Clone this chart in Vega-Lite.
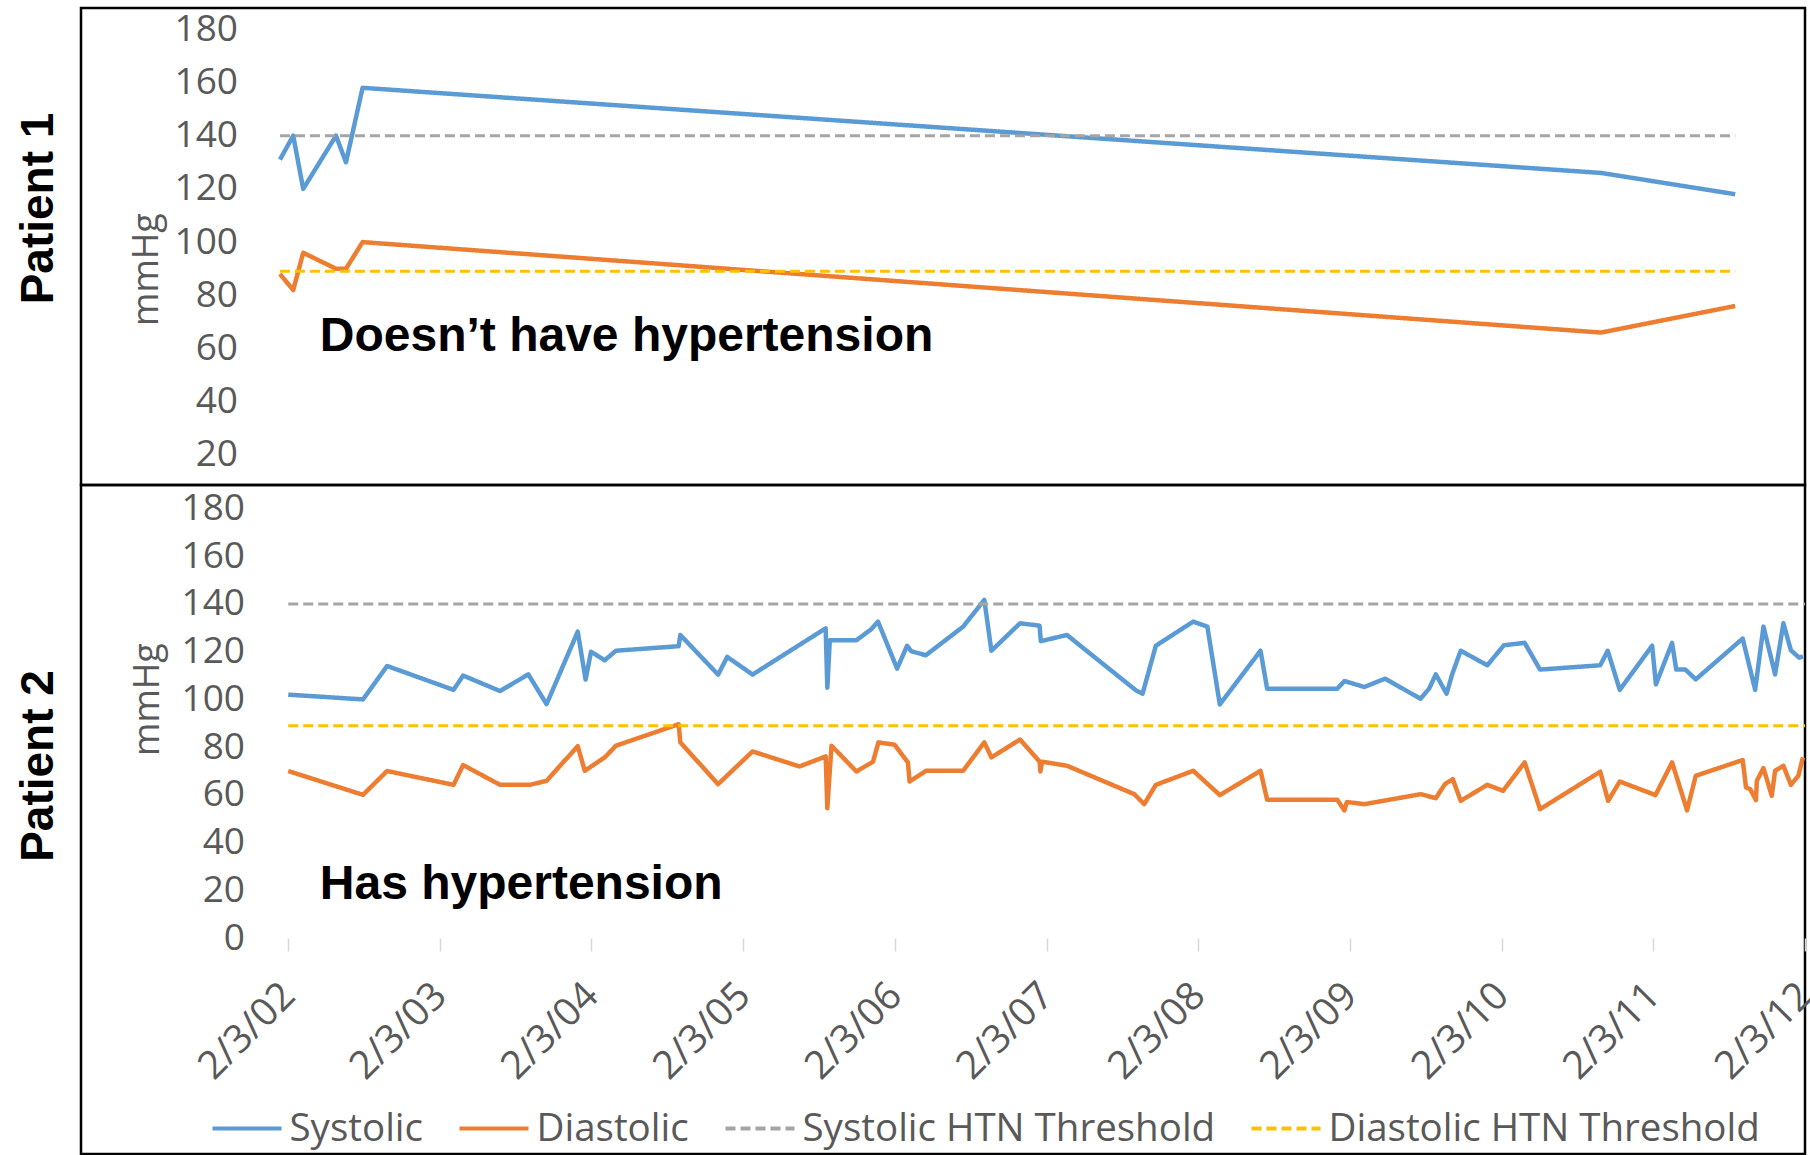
{
  "$schema": "https://vega.github.io/schema/vega-lite/v6.json",
  "padding": {"left": 14, "top": 6, "right": 0, "bottom": 0},
  "background": "white",
  "config": {"view": {"stroke": "#000000", "strokeWidth": 2.5}, "font": "Open Sans"},
  "spacing": 0,
  "bounds": "flush",
  "resolve": {
    "scale": {"x": "independent", "y": "independent", "color": "independent", "strokeDash": "independent"},
    "legend": {"color": "independent", "strokeDash": "independent"}
  },
  "vconcat": [
    {
      "width": 1724,
      "height": 477,
      "title": {"text": "Patient 1", "orient": "left", "anchor": "middle", "font": "Liberation Sans", "fontSize": 46, "fontWeight": "bold", "color": "#000000", "offset": 18, "dx": 38},
      "encoding": {
        "x": {"field": "date", "type": "temporal", "scale": {"type": "utc", "domain": [{"year": 2000, "month": 9, "date": 22, "utc": true}, {"year": 2012, "month": 2, "date": 3, "utc": true}]}, "axis": null},
        "y": {"field": "mmHg", "type": "quantitative", "scale": {"domain": [8.7, 188], "nice": false, "zero": false},
          "axis": {"values": [20, 40, 60, 80, 100, 120, 140, 160, 180], "offset": -198.5, "domain": false, "ticks": false, "grid": false,
            "labelFont": "Open Sans", "labelFontSize": 37, "labelColor": "#595959", "labelPadding": 42,
            "title": "mmHg", "titleFont": "Open Sans", "titleFontSize": 36, "titleFontWeight": "normal", "titleColor": "#595959",
            "titleX": -133.5, "titleY": 261, "titleAlign": "center", "titleBaseline": "middle"}}
      },
      "layer": [
        {
          "data": {"values": [{"mmHg": 20}, {"mmHg": 40}, {"mmHg": 60}, {"mmHg": 80}, {"mmHg": 100}, {"mmHg": 120}, {"mmHg": 140}, {"mmHg": 160}, {"mmHg": 180}]},
          "mark": {"type": "rule", "color": "#dedede", "strokeWidth": 1.5},
          "encoding": {
            "x": {"datum": {"year": 2002, "month": 1, "date": 14, "utc": true}, "type": "temporal", "axis": null},
            "x2": {"datum": {"year": 2011, "month": 8, "date": 19, "utc": true}}
          }
        },
        {
          "data": {"values": [
            {"date": "2002-01-14", "series": "Systolic", "mmHg": 131},
            {"date": "2002-02-15", "series": "Systolic", "mmHg": 140},
            {"date": "2002-03-11", "series": "Systolic", "mmHg": 120},
            {"date": "2002-05-29", "series": "Systolic", "mmHg": 140},
            {"date": "2002-06-22", "series": "Systolic", "mmHg": 130},
            {"date": "2002-08-01", "series": "Systolic", "mmHg": 158},
            {"date": "2010-09-30", "series": "Systolic", "mmHg": 126},
            {"date": "2011-08-19", "series": "Systolic", "mmHg": 118},
            {"date": "2002-01-14", "series": "Diastolic", "mmHg": 88},
            {"date": "2002-02-15", "series": "Diastolic", "mmHg": 82},
            {"date": "2002-03-11", "series": "Diastolic", "mmHg": 96},
            {"date": "2002-05-29", "series": "Diastolic", "mmHg": 90},
            {"date": "2002-06-22", "series": "Diastolic", "mmHg": 90},
            {"date": "2002-08-01", "series": "Diastolic", "mmHg": 100},
            {"date": "2010-09-30", "series": "Diastolic", "mmHg": 66},
            {"date": "2011-08-19", "series": "Diastolic", "mmHg": 76}
          ]},
          "mark": {"type": "line", "strokeWidth": 4.5, "strokeJoin": "round"},
          "encoding": {
            "color": {"field": "series", "type": "nominal", "scale": {"domain": ["Systolic", "Diastolic", "Systolic HTN Threshold", "Diastolic HTN Threshold"], "range": ["#5B9BD5", "#ED7D31", "#A5A5A5", "#FFC000"]}, "legend": null},
            "strokeDash": {"field": "series", "type": "nominal", "scale": {"domain": ["Systolic", "Diastolic", "Systolic HTN Threshold", "Diastolic HTN Threshold"], "range": [[1, 0], [1, 0], [10, 5], [10, 5]]}, "legend": null}
          }
        },
        {
          "data": {"values": [
            {"date": "2002-01-14", "series": "Systolic HTN Threshold", "mmHg": 140},
            {"date": "2011-08-19", "series": "Systolic HTN Threshold", "mmHg": 140},
            {"date": "2002-01-14", "series": "Diastolic HTN Threshold", "mmHg": 89},
            {"date": "2011-08-19", "series": "Diastolic HTN Threshold", "mmHg": 89}
          ]},
          "mark": {"type": "line", "strokeWidth": 3},
          "encoding": {
            "color": {"field": "series", "type": "nominal", "legend": null},
            "strokeDash": {"field": "series", "type": "nominal", "legend": null}
          }
        },
        {
          "data": {"values": [{"date": "2002-04-20", "mmHg": 59.1, "label": "Doesn’t have hypertension"}]},
          "mark": {"type": "text", "align": "left", "baseline": "alphabetic", "font": "Liberation Sans", "fontSize": 48, "fontWeight": "bold", "color": "#000000"},
          "encoding": {"text": {"field": "label"}}
        }
      ]
    },
    {
      "width": 1724,
      "height": 669,
      "title": {"text": "Patient 2", "orient": "left", "anchor": "middle", "font": "Liberation Sans", "fontSize": 46, "fontWeight": "bold", "color": "#000000", "offset": 18, "dx": 53.5},
      "encoding": {
        "x": {"field": "date", "type": "temporal", "scale": {"type": "utc", "domain": [{"year": 2000, "month": 9, "date": 22, "utc": true}, {"year": 2012, "month": 2, "date": 3, "utc": true}]},
          "axis": {"values": [
            {"year": 2002, "month": 2, "date": 3, "utc": true}, {"year": 2003, "month": 2, "date": 3, "utc": true},
            {"year": 2004, "month": 2, "date": 3, "utc": true}, {"year": 2005, "month": 2, "date": 3, "utc": true},
            {"year": 2006, "month": 2, "date": 3, "utc": true}, {"year": 2007, "month": 2, "date": 3, "utc": true},
            {"year": 2008, "month": 2, "date": 3, "utc": true}, {"year": 2009, "month": 2, "date": 3, "utc": true},
            {"year": 2010, "month": 2, "date": 3, "utc": true}, {"year": 2011, "month": 2, "date": 3, "utc": true},
            {"year": 2012, "month": 2, "date": 3, "utc": true}],
            "format": "%-m/%-d/%y", "labelAngle": -45, "labelBaseline": "middle", "labelFont": "Open Sans", "labelFontSize": 39, "labelColor": "#595959",
            "offset": -216, "domain": false, "grid": false, "ticks": true, "tickColor": "#d9d9d9", "tickSize": 13, "tickWidth": 1.5,
            "labelPadding": 38, "title": null, "labelFlush": false, "labelOverlap": false, "labelBound": false}},
        "y": {"field": "mmHg", "type": "quantitative", "scale": {"domain": [-90.5, 189.85], "nice": false, "zero": false},
          "axis": {"values": [0, 20, 40, 60, 80, 100, 120, 140, 160, 180], "offset": -207.5, "domain": false, "ticks": false, "grid": false,
            "labelFont": "Open Sans", "labelFontSize": 37, "labelColor": "#595959", "labelPadding": 44,
            "title": "mmHg", "titleFont": "Open Sans", "titleFontSize": 36, "titleFontWeight": "normal", "titleColor": "#595959",
            "titleX": -141, "titleY": 214, "titleAlign": "center", "titleBaseline": "middle"}}
      },
      "layer": [
        {
          "data": {"values": [{"mmHg": 0}, {"mmHg": 20}, {"mmHg": 40}, {"mmHg": 60}, {"mmHg": 80}, {"mmHg": 100}, {"mmHg": 120}, {"mmHg": 140}, {"mmHg": 160}, {"mmHg": 180}]},
          "mark": {"type": "rule", "color": "#dedede", "strokeWidth": 1.5, "clip": true},
          "encoding": {
            "x": {"datum": {"year": 2002, "month": 2, "date": 3, "utc": true}, "type": "temporal"},
            "x2": {"datum": {"year": 2012, "month": 2, "date": 3, "utc": true}}
          }
        },
        {
          "data": {"values": [
            {"date": "2002-02-03", "series": "Systolic", "mmHg": 102},
            {"date": "2002-08-02", "series": "Systolic", "mmHg": 100},
            {"date": "2002-09-29", "series": "Systolic", "mmHg": 114},
            {"date": "2003-03-08", "series": "Systolic", "mmHg": 104},
            {"date": "2003-03-31", "series": "Systolic", "mmHg": 110},
            {"date": "2003-06-28", "series": "Systolic", "mmHg": 103.5},
            {"date": "2003-09-04", "series": "Systolic", "mmHg": 110.5},
            {"date": "2003-10-18", "series": "Systolic", "mmHg": 98},
            {"date": "2004-01-01", "series": "Systolic", "mmHg": 128.4},
            {"date": "2004-01-20", "series": "Systolic", "mmHg": 108.3},
            {"date": "2004-02-02", "series": "Systolic", "mmHg": 120},
            {"date": "2004-03-06", "series": "Systolic", "mmHg": 116.4},
            {"date": "2004-04-02", "series": "Systolic", "mmHg": 120.4},
            {"date": "2004-08-31", "series": "Systolic", "mmHg": 122.3},
            {"date": "2004-09-04", "series": "Systolic", "mmHg": 127},
            {"date": "2004-12-04", "series": "Systolic", "mmHg": 110.4},
            {"date": "2004-12-26", "series": "Systolic", "mmHg": 117.8},
            {"date": "2005-02-25", "series": "Systolic", "mmHg": 110.4},
            {"date": "2005-08-20", "series": "Systolic", "mmHg": 129.8},
            {"date": "2005-08-24", "series": "Systolic", "mmHg": 104.9},
            {"date": "2005-08-30", "series": "Systolic", "mmHg": 124.8},
            {"date": "2005-11-02", "series": "Systolic", "mmHg": 124.8},
            {"date": "2005-12-07", "series": "Systolic", "mmHg": 129.3},
            {"date": "2005-12-24", "series": "Systolic", "mmHg": 132.6},
            {"date": "2006-02-08", "series": "Systolic", "mmHg": 112.9},
            {"date": "2006-03-04", "series": "Systolic", "mmHg": 122.5},
            {"date": "2006-03-14", "series": "Systolic", "mmHg": 120.2},
            {"date": "2006-04-18", "series": "Systolic", "mmHg": 118.5},
            {"date": "2006-07-17", "series": "Systolic", "mmHg": 130.5},
            {"date": "2006-09-06", "series": "Systolic", "mmHg": 141.7},
            {"date": "2006-09-23", "series": "Systolic", "mmHg": 120.4},
            {"date": "2006-12-01", "series": "Systolic", "mmHg": 131.9},
            {"date": "2007-01-17", "series": "Systolic", "mmHg": 130.9},
            {"date": "2007-01-20", "series": "Systolic", "mmHg": 124.4},
            {"date": "2007-03-24", "series": "Systolic", "mmHg": 127},
            {"date": "2007-09-06", "series": "Systolic", "mmHg": 103.8},
            {"date": "2007-09-22", "series": "Systolic", "mmHg": 102.4},
            {"date": "2007-10-24", "series": "Systolic", "mmHg": 122.5},
            {"date": "2008-01-22", "series": "Systolic", "mmHg": 132.6},
            {"date": "2008-02-25", "series": "Systolic", "mmHg": 130.5},
            {"date": "2008-03-26", "series": "Systolic", "mmHg": 97.9},
            {"date": "2008-07-02", "series": "Systolic", "mmHg": 120.4},
            {"date": "2008-07-18", "series": "Systolic", "mmHg": 104.5},
            {"date": "2009-01-03", "series": "Systolic", "mmHg": 104.5},
            {"date": "2009-01-20", "series": "Systolic", "mmHg": 107.7},
            {"date": "2009-03-09", "series": "Systolic", "mmHg": 105.2},
            {"date": "2009-04-28", "series": "Systolic", "mmHg": 108.7},
            {"date": "2009-07-22", "series": "Systolic", "mmHg": 100.3},
            {"date": "2009-08-12", "series": "Systolic", "mmHg": 104.5},
            {"date": "2009-08-28", "series": "Systolic", "mmHg": 110.5},
            {"date": "2009-09-23", "series": "Systolic", "mmHg": 102.4},
            {"date": "2009-10-07", "series": "Systolic", "mmHg": 110.8},
            {"date": "2009-10-27", "series": "Systolic", "mmHg": 120.4},
            {"date": "2009-12-30", "series": "Systolic", "mmHg": 114.3},
            {"date": "2010-02-08", "series": "Systolic", "mmHg": 122.7},
            {"date": "2010-03-30", "series": "Systolic", "mmHg": 123.7},
            {"date": "2010-05-06", "series": "Systolic", "mmHg": 112.5},
            {"date": "2010-09-28", "series": "Systolic", "mmHg": 114.3},
            {"date": "2010-10-16", "series": "Systolic", "mmHg": 120.4},
            {"date": "2010-11-14", "series": "Systolic", "mmHg": 104},
            {"date": "2011-01-31", "series": "Systolic", "mmHg": 122.5},
            {"date": "2011-02-09", "series": "Systolic", "mmHg": 106.3},
            {"date": "2011-03-20", "series": "Systolic", "mmHg": 123.7},
            {"date": "2011-03-30", "series": "Systolic", "mmHg": 112.5},
            {"date": "2011-04-21", "series": "Systolic", "mmHg": 112.5},
            {"date": "2011-05-16", "series": "Systolic", "mmHg": 108.4},
            {"date": "2011-09-06", "series": "Systolic", "mmHg": 125.5},
            {"date": "2011-10-06", "series": "Systolic", "mmHg": 104},
            {"date": "2011-10-26", "series": "Systolic", "mmHg": 130.5},
            {"date": "2011-11-23", "series": "Systolic", "mmHg": 110.5},
            {"date": "2011-12-13", "series": "Systolic", "mmHg": 131.9},
            {"date": "2011-12-31", "series": "Systolic", "mmHg": 120.6},
            {"date": "2012-01-20", "series": "Systolic", "mmHg": 117.5},
            {"date": "2012-01-29", "series": "Systolic", "mmHg": 118},
            {"date": "2002-02-03", "series": "Diastolic", "mmHg": 70},
            {"date": "2002-08-02", "series": "Diastolic", "mmHg": 60},
            {"date": "2002-09-29", "series": "Diastolic", "mmHg": 70},
            {"date": "2003-03-08", "series": "Diastolic", "mmHg": 64.2},
            {"date": "2003-03-31", "series": "Diastolic", "mmHg": 72.5},
            {"date": "2003-06-28", "series": "Diastolic", "mmHg": 64.2},
            {"date": "2003-09-08", "series": "Diastolic", "mmHg": 64.2},
            {"date": "2003-10-18", "series": "Diastolic", "mmHg": 65.9},
            {"date": "2004-01-01", "series": "Diastolic", "mmHg": 80.4},
            {"date": "2004-01-18", "series": "Diastolic", "mmHg": 70.1},
            {"date": "2004-03-06", "series": "Diastolic", "mmHg": 75.7},
            {"date": "2004-04-02", "series": "Diastolic", "mmHg": 80.6},
            {"date": "2004-08-31", "series": "Diastolic", "mmHg": 89.6},
            {"date": "2004-09-04", "series": "Diastolic", "mmHg": 82},
            {"date": "2004-12-04", "series": "Diastolic", "mmHg": 64.5},
            {"date": "2005-02-25", "series": "Diastolic", "mmHg": 78.2},
            {"date": "2005-06-18", "series": "Diastolic", "mmHg": 71.9},
            {"date": "2005-08-20", "series": "Diastolic", "mmHg": 76.1},
            {"date": "2005-08-24", "series": "Diastolic", "mmHg": 54.4},
            {"date": "2005-09-03", "series": "Diastolic", "mmHg": 80.6},
            {"date": "2005-11-02", "series": "Diastolic", "mmHg": 69.8},
            {"date": "2005-12-12", "series": "Diastolic", "mmHg": 73.9},
            {"date": "2005-12-25", "series": "Diastolic", "mmHg": 82},
            {"date": "2006-02-02", "series": "Diastolic", "mmHg": 81},
            {"date": "2006-03-06", "series": "Diastolic", "mmHg": 73.6},
            {"date": "2006-03-10", "series": "Diastolic", "mmHg": 65.6},
            {"date": "2006-04-19", "series": "Diastolic", "mmHg": 70.1},
            {"date": "2006-07-17", "series": "Diastolic", "mmHg": 70.1},
            {"date": "2006-09-06", "series": "Diastolic", "mmHg": 82},
            {"date": "2006-09-23", "series": "Diastolic", "mmHg": 75.7},
            {"date": "2006-12-01", "series": "Diastolic", "mmHg": 83.2},
            {"date": "2007-01-17", "series": "Diastolic", "mmHg": 74},
            {"date": "2007-01-19", "series": "Diastolic", "mmHg": 69.8},
            {"date": "2007-01-23", "series": "Diastolic", "mmHg": 73.9},
            {"date": "2007-03-24", "series": "Diastolic", "mmHg": 72.2},
            {"date": "2007-09-02", "series": "Diastolic", "mmHg": 60.3},
            {"date": "2007-09-26", "series": "Diastolic", "mmHg": 56.1},
            {"date": "2007-10-24", "series": "Diastolic", "mmHg": 64.2},
            {"date": "2008-01-22", "series": "Diastolic", "mmHg": 70.1},
            {"date": "2008-03-26", "series": "Diastolic", "mmHg": 59.9},
            {"date": "2008-07-02", "series": "Diastolic", "mmHg": 70.1},
            {"date": "2008-07-18", "series": "Diastolic", "mmHg": 57.9},
            {"date": "2009-01-03", "series": "Diastolic", "mmHg": 57.9},
            {"date": "2009-01-20", "series": "Diastolic", "mmHg": 53.5},
            {"date": "2009-01-26", "series": "Diastolic", "mmHg": 57},
            {"date": "2009-03-09", "series": "Diastolic", "mmHg": 56.1},
            {"date": "2009-07-23", "series": "Diastolic", "mmHg": 60.3},
            {"date": "2009-08-28", "series": "Diastolic", "mmHg": 58.6},
            {"date": "2009-09-19", "series": "Diastolic", "mmHg": 64.5},
            {"date": "2009-10-08", "series": "Diastolic", "mmHg": 66.6},
            {"date": "2009-10-27", "series": "Diastolic", "mmHg": 57.5},
            {"date": "2009-12-30", "series": "Diastolic", "mmHg": 64.2},
            {"date": "2010-02-06", "series": "Diastolic", "mmHg": 61.7},
            {"date": "2010-03-30", "series": "Diastolic", "mmHg": 73.6},
            {"date": "2010-05-06", "series": "Diastolic", "mmHg": 54},
            {"date": "2010-09-28", "series": "Diastolic", "mmHg": 69.7},
            {"date": "2010-10-17", "series": "Diastolic", "mmHg": 57.5},
            {"date": "2010-11-14", "series": "Diastolic", "mmHg": 65.6},
            {"date": "2011-02-08", "series": "Diastolic", "mmHg": 59.9},
            {"date": "2011-03-20", "series": "Diastolic", "mmHg": 73.6},
            {"date": "2011-04-25", "series": "Diastolic", "mmHg": 53.5},
            {"date": "2011-05-16", "series": "Diastolic", "mmHg": 68},
            {"date": "2011-09-06", "series": "Diastolic", "mmHg": 74.6},
            {"date": "2011-09-14", "series": "Diastolic", "mmHg": 63.1},
            {"date": "2011-09-24", "series": "Diastolic", "mmHg": 62.4},
            {"date": "2011-10-08", "series": "Diastolic", "mmHg": 57.8},
            {"date": "2011-10-10", "series": "Diastolic", "mmHg": 65.9},
            {"date": "2011-10-26", "series": "Diastolic", "mmHg": 71.2},
            {"date": "2011-11-15", "series": "Diastolic", "mmHg": 59.6},
            {"date": "2011-11-23", "series": "Diastolic", "mmHg": 70.1},
            {"date": "2011-12-13", "series": "Diastolic", "mmHg": 72.2},
            {"date": "2011-12-31", "series": "Diastolic", "mmHg": 64.2},
            {"date": "2012-01-18", "series": "Diastolic", "mmHg": 68},
            {"date": "2012-01-29", "series": "Diastolic", "mmHg": 75.7}
          ]},
          "mark": {"type": "line", "strokeWidth": 4.5, "strokeJoin": "round", "clip": true},
          "encoding": {
            "color": {"field": "series", "type": "nominal", "scale": {"domain": ["Systolic", "Diastolic", "Systolic HTN Threshold", "Diastolic HTN Threshold"], "range": ["#5B9BD5", "#ED7D31", "#A5A5A5", "#FFC000"]},
              "legend": {"orient": "none", "legendX": 129.5, "legendY": 607, "direction": "horizontal", "columns": 4, "title": null,
                "symbolType": "stroke", "symbolSize": 4761, "symbolStrokeWidth": 4, "labelFont": "Open Sans", "labelFontSize": 38.5,
                "labelColor": "#595959", "columnPadding": 28, "labelOffset": 6, "padding": 0, "labelLimit": 1000}},
            "strokeDash": {"field": "series", "type": "nominal", "scale": {"domain": ["Systolic", "Diastolic", "Systolic HTN Threshold", "Diastolic HTN Threshold"], "range": [[1, 0], [1, 0], [10, 5], [10, 5]]}}
          }
        },
        {
          "data": {"values": [
            {"date": "2002-02-03", "series": "Systolic HTN Threshold", "mmHg": 140},
            {"date": "2012-02-03", "series": "Systolic HTN Threshold", "mmHg": 140},
            {"date": "2002-02-03", "series": "Diastolic HTN Threshold", "mmHg": 89},
            {"date": "2012-02-03", "series": "Diastolic HTN Threshold", "mmHg": 89}
          ]},
          "mark": {"type": "line", "strokeWidth": 3, "clip": true},
          "encoding": {
            "color": {"field": "series", "type": "nominal"},
            "strokeDash": {"field": "series", "type": "nominal"}
          }
        },
        {
          "data": {"values": [{"date": "2002-04-20", "mmHg": 16.3, "label": "Has hypertension"}]},
          "mark": {"type": "text", "align": "left", "baseline": "alphabetic", "font": "Liberation Sans", "fontSize": 48, "fontWeight": "bold", "color": "#000000"},
          "encoding": {"text": {"field": "label"}}
        }
      ]
    }
  ]
}
